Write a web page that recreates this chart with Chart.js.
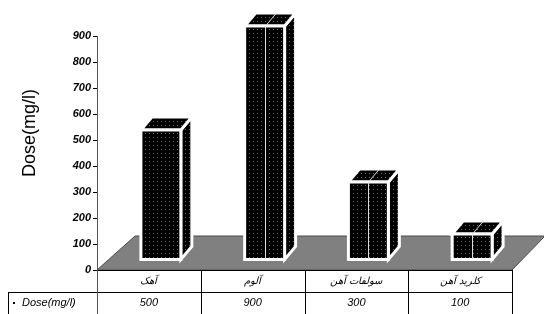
<!DOCTYPE html>
<html>
<head>
<meta charset="utf-8">
<script src="https://cdn.jsdelivr.net/npm/chart.js@4.4.1/dist/chart.umd.min.js"></script>
<style>
  body{margin:0;background:#fff;}
  canvas{display:block;}
</style>
</head>
<body>
<canvas id="myChart" width="544" height="314"></canvas>
<script>
var categories = ['آهک', 'آلوم', 'سولفات آهن', 'کلرید آهن'];
var doseValues = [500, 900, 300, 100];
var seriesName = 'Dose(mg/l)';
var yMin = 0, yMax = 900, yStep = 100;

// dotted black fill like the old excel pattern
function makePattern(ctx){
    var c = document.createElement('canvas');
    c.width = 4; c.height = 4;
    var p = c.getContext('2d');
    p.fillStyle = '#000';
    p.fillRect(0, 0, 4, 4);
    p.fillStyle = '#6e6e6e';
    p.fillRect(1, 1, 1, 1);
    return ctx.createPattern(c, 'repeat');
}

var fakeThreeD = {
    id: 'fakeThreeD',
    beforeDatasetsDraw: function(chart){
        var ctx = chart.ctx, a = chart.chartArea;
        ctx.save();
        ctx.beginPath();
        ctx.moveTo(a.left, a.bottom);
        ctx.lineTo(a.right, a.bottom);
        ctx.lineTo(a.right + 33, a.bottom - 34);
        ctx.lineTo(a.left + 38, a.bottom - 34);
        ctx.closePath();
        ctx.fillStyle = '#808080';
        ctx.fill();
        ctx.strokeStyle = '#4a4a4a';
        ctx.lineWidth = 1;
        ctx.stroke();
        ctx.restore();
    },
    afterDatasetsDraw: function(chart){
        var ctx = chart.ctx;
        var meta = chart.getDatasetMeta(0);
        var pat = makePattern(ctx);
        var ox = 12, oy = -10, dx = 11, dy = -13;
        ctx.save();
        meta.data.forEach(function(bar, i){
            var L = bar.x - bar.width / 2 + ox, R = bar.x + bar.width / 2 + ox;
            var T = bar.y + oy, B = bar.base + oy;
            ctx.fillStyle = pat;
            ctx.strokeStyle = '#fff';
            ctx.lineWidth = 3;
            ctx.lineJoin = 'miter';
            // side
            ctx.beginPath();
            ctx.moveTo(R, T); ctx.lineTo(R + dx, T + dy); ctx.lineTo(R + dx, B + dy); ctx.lineTo(R, B);
            ctx.closePath(); ctx.fill(); ctx.stroke();
            // top
            ctx.beginPath();
            ctx.moveTo(L, T); ctx.lineTo(R, T); ctx.lineTo(R + dx, T + dy); ctx.lineTo(L + dx, T + dy);
            ctx.closePath(); ctx.fill(); ctx.stroke();
            // front
            ctx.beginPath();
            ctx.rect(L, T, R - L, B - T);
            ctx.fill(); ctx.stroke();
            if(i > 0){
                var m = Math.round((L + R) / 2) + 0.5;
                ctx.lineWidth = 1;
                ctx.strokeStyle = '#ddd';
                ctx.beginPath();
                ctx.moveTo(m, B); ctx.lineTo(m, T); ctx.lineTo(m + dx, T + dy);
                ctx.stroke();
            }
        });
        ctx.restore();
    },
    afterDraw: function(chart){
        var ctx = chart.ctx, a = chart.chartArea;
        var x = chart.scales.x;
        var colW = (a.right - a.left) / categories.length;
        ctx.save();
        ctx.strokeStyle = '#000';
        ctx.lineWidth = 1;
        ctx.beginPath();
        ctx.moveTo(a.left, a.bottom + 0.5); ctx.lineTo(a.right, a.bottom + 0.5);
        ctx.moveTo(8, a.bottom + 22.5); ctx.lineTo(a.right, a.bottom + 22.5);
        ctx.moveTo(8.5, a.bottom + 22); ctx.lineTo(8.5, 314);
        for(var k = 1; k <= categories.length; k++){
            var xx = Math.round(a.left + k * colW) + 0.5;
            ctx.moveTo(xx, a.bottom); ctx.lineTo(xx, 314);
        }
        ctx.stroke();
        ctx.strokeStyle = '#555';
        ctx.beginPath();
        ctx.moveTo(a.left + 0.5, a.bottom); ctx.lineTo(a.left + 0.5, 314);
        ctx.stroke();

        // value row
        ctx.fillStyle = '#000';
        ctx.font = 'italic 11px Arial';
        ctx.textAlign = 'center';
        ctx.textBaseline = 'middle';
        doseValues.forEach(function(v, i){
            ctx.fillText(String(v), x.getPixelForValue(i), a.bottom + 33);
        });
        ctx.textAlign = 'left';
        ctx.fillText(seriesName, 22, a.bottom + 33);
        ctx.fillRect(13, a.bottom + 32, 2, 2);

        // axis title
        ctx.translate(30, 133);
        ctx.rotate(-Math.PI / 2);
        ctx.font = '18px Arial';
        ctx.textAlign = 'center';
        ctx.fillText(seriesName, 0, 0);
        ctx.restore();
    }
};

var ctx = document.getElementById('myChart').getContext('2d');
var myChart = new Chart(ctx, {
    type: 'bar',
    data: {
        labels: categories,
        datasets: [{
            label: seriesName,
            data: doseValues,
            backgroundColor: 'rgba(0,0,0,0)',
            borderWidth: 0,
            barPercentage: 0.385,
            categoryPercentage: 1
        }]
    },
    options: {
        responsive: false,
        animation: false,
        events: [],
        layout: {padding: {left: 0, right: 32, top: 36, bottom: 0}},
        plugins: {legend: {display: false}, tooltip: {enabled: false}},
        scales: {
            x: {
                afterFit: function(s){ s.height = 44; },
                grid: {display: false, drawTicks: false},
                border: {display: false},
                ticks: {padding: 5, color: '#000', font: {family: 'Arial', size: 10, style: 'italic'}}
            },
            y: {
                min: yMin, max: yMax,
                afterFit: function(s){ s.width = 97; },
                grid: {drawOnChartArea: false, tickLength: 4, color: '#000'},
                border: {color: '#555'},
                ticks: {stepSize: yStep, padding: 2, color: '#000', font: {family: 'Arial', size: 11, style: 'italic', weight: 'bold'}}
            }
        }
    },
    plugins: [fakeThreeD]
});
</script>
</body>
</html>
